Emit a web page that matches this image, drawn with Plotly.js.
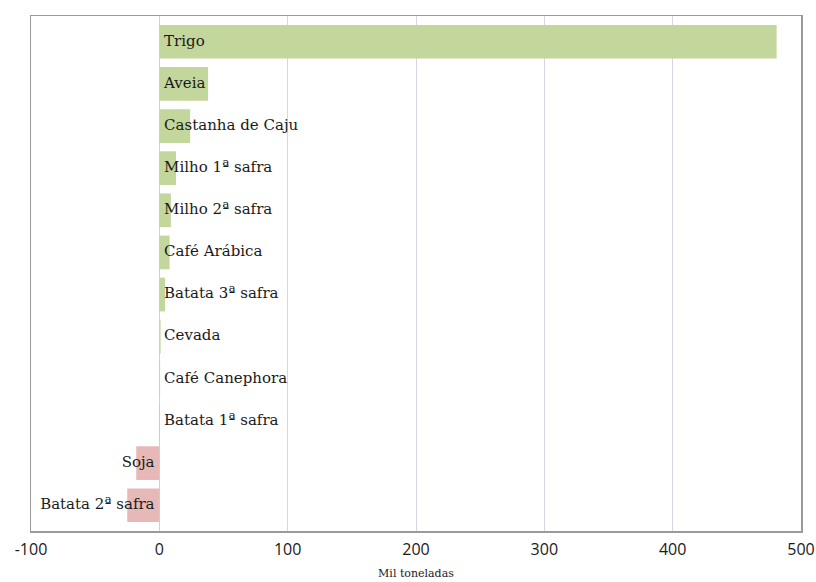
<!DOCTYPE html>
<html>
<head>
<meta charset="utf-8">
<script src="https://cdn.plot.ly/plotly-3.0.1.min.js"></script>
<style>html,body{margin:0;padding:0;background:#fff;}#chart{width:816px;height:582px;}</style>
</head>
<body>
<div id="chart"></div>
<script>
const categories = ["Trigo","Aveia","Castanha de Caju","Milho 1ª safra","Milho 2ª safra","Café Arábica","Batata 3ª safra","Cevada","Café Canephora","Batata 1ª safra","Soja","Batata 2ª safra"];
const values = [481, 38, 24, 13, 9, 8, 4.5, 1, 0.6, 0.5, -18, -25];
const tickVals = [-100, 0, 100, 200, 300, 400, 500];
const tickText = ["-100", "0", "100", "200", "300", "400", "500"];

const colors = values.map(v => v >= 0 ? "#c3d69b" : "#e6b9b8");
const labelX = values.map(() => 0);
const labelPos = values.map(v => v >= 0 ? "middle right" : "middle left");

const bars = {
  type: "bar",
  orientation: "h",
  x: values,
  y: categories,
  marker: {color: colors, line: {width: 0}},
  hoverinfo: "x+y",
  showlegend: false
};
const labels = {
  type: "scatter",
  mode: "text",
  x: labelX,
  y: categories,
  text: categories.map(c => " " + c + " "),
  textposition: labelPos,
  textfont: {family: "DejaVu Serif", size: 15, color: "#1a1a1a"},
  hoverinfo: "skip",
  showlegend: false,
  cliponaxis: false
};

const layout = {
  width: 816, height: 582,
  margin: {l: 31, r: 15, t: 16, b: 51},
  paper_bgcolor: "#ffffff",
  plot_bgcolor: "#ffffff",
  bargap: 0.2,
  xaxis: {
    range: [-100, 500],
    tickvals: tickVals,
    ticktext: tickText,
    showgrid: true,
    gridcolor: "#d6d6ea",
    gridwidth: 1,
    zeroline: true,
    zerolinecolor: "#d0d0d8",
    zerolinewidth: 1,
    showline: true,
    linecolor: "#9a9a9a",
    linewidth: 1.5,
    mirror: true,
    ticks: "outside",
    ticklen: 3,
    tickcolor: "rgba(0,0,0,0)",
    tickfont: {family: "Open Sans", size: 16, color: "#1a1a1a"},
    title: {text: "Mil toneladas", font: {family: "DejaVu Serif", size: 11, color: "#1a1a1a"}, standoff: 10},
    automargin: false,
    fixedrange: true
  },
  yaxis: {
    type: "category",
    categoryorder: "array",
    categoryarray: categories,
    autorange: "reversed",
    showticklabels: false,
    showgrid: false,
    zeroline: false,
    showline: true,
    linecolor: "#9a9a9a",
    linewidth: 1.5,
    mirror: true,
    ticks: "",
    automargin: false,
    fixedrange: true
  }
};

Plotly.newPlot("chart", [bars, labels], layout, {displayModeBar: false, staticPlot: true});
</script>
</body>
</html>
